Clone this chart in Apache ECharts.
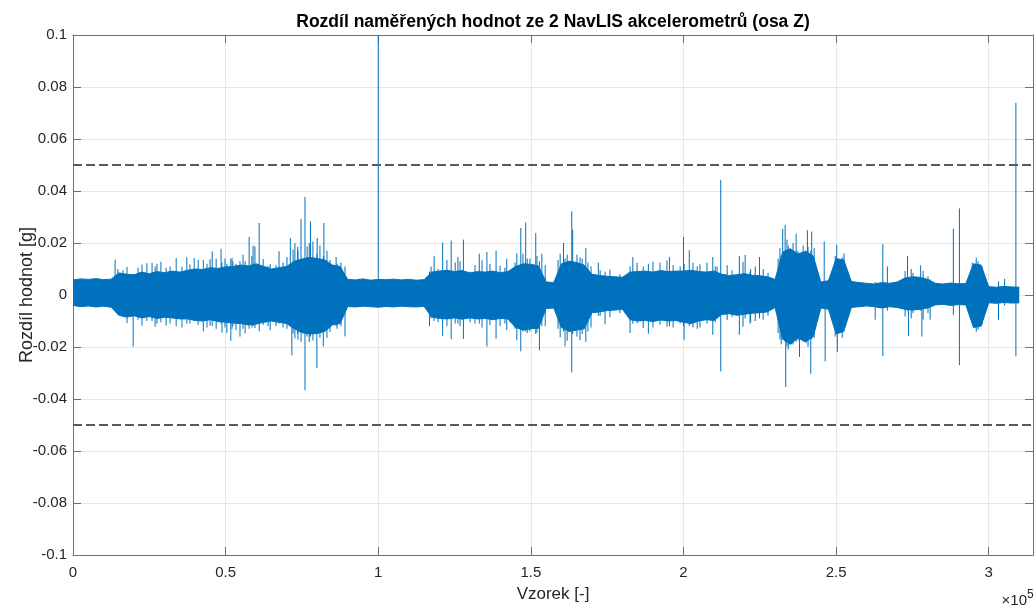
<!DOCTYPE html>
<html lang="cs">
<head>
    <meta charset="UTF-8">
    <title>Rozdíl akcelerometrů</title>
    <script src="https://cdn.jsdelivr.net/npm/echarts@6/dist/echarts.min.js"></script>
    <style>
        *{
            margin: 0;
            padding: 0;
        }
        body,html{
            width: 100%;
            height: 100%;
            overflow: hidden;
            background: #fff;
        }
        .box{
            width: 1035px;
            height: 605px;
        }
    </style>
</head>
<body>
<div class="box"></div>
<script>
    // envelope of the signal, one value every 2500 samples
    let step = 2500;
    let upper = [
        0.0058,0.0062,0.0060,0.0063,0.0059,0.0061,
        0.0085,0.0080,0.0078,0.0088,0.0082,0.0090,0.0086,0.0092,0.0088,
        0.0095,0.0100,0.0098,0.0105,0.0102,0.0108,0.0110,
        0.0115,0.0112,0.0120,0.0110,
        0.0100,0.0105,0.0110,
        0.0130,0.0138,0.0145,0.0140,0.0135,
        0.0115,0.0110,
        0.0060,0.0058,0.0062,0.0057,0.0060,0.0059,0.0061,0.0058,0.0060,0.0057,0.0059,
        0.0088,0.0092,0.0095,0.0090,0.0094,
        0.0085,0.0090,0.0088,0.0092,0.0086,0.0090,
        0.0110,0.0120,0.0118,0.0112,
        0.0050,0.0048,
        0.0120,0.0130,0.0125,0.0115,
        0.0080,0.0075,0.0072,0.0070,0.0068,
        0.0088,0.0090,0.0092,0.0088,0.0094,0.0090,0.0092,
        0.0092,0.0095,0.0090,0.0088,0.0092,
        0.0080,0.0075,0.0078,0.0082,0.0076,0.0074,0.0070,
        0.0060,
        0.0165,0.0178,0.0158,0.0168,0.0150,
        0.0050,0.0055,
        0.0140,0.0135,
        0.0052,0.0048,0.0045,0.0042,
        0.0048,0.0045,0.0050,
        0.0065,0.0070,0.0068,0.0060,
        0.0045,0.0042,0.0046,0.0043,0.0044,
        0.0120,0.0115,
        0.0032,0.0030,0.0033,0.0031,0.0030
    ];
    let lower = [
        -0.0040,-0.0045,-0.0042,-0.0046,-0.0043,-0.0047,
        -0.0078,-0.0085,-0.0080,-0.0088,-0.0083,-0.0090,-0.0086,-0.0088,-0.0092,
        -0.0092,-0.0098,-0.0100,-0.0095,-0.0102,-0.0105,-0.0108,
        -0.0110,-0.0115,-0.0112,-0.0105,
        -0.0100,-0.0105,-0.0110,
        -0.0130,-0.0145,-0.0150,-0.0148,-0.0140,
        -0.0115,-0.0110,
        -0.0044,-0.0046,-0.0043,-0.0045,-0.0047,-0.0044,-0.0046,-0.0043,-0.0045,-0.0046,-0.0044,
        -0.0085,-0.0090,-0.0092,-0.0088,-0.0093,
        -0.0088,-0.0092,-0.0090,-0.0095,-0.0090,-0.0092,
        -0.0125,-0.0135,-0.0130,-0.0128,
        -0.0052,-0.0050,
        -0.0125,-0.0140,-0.0135,-0.0130,
        -0.0068,-0.0065,-0.0060,-0.0058,-0.0055,
        -0.0095,-0.0100,-0.0098,-0.0102,-0.0096,-0.0100,-0.0098,
        -0.0105,-0.0110,-0.0100,-0.0095,-0.0098,
        -0.0075,-0.0072,-0.0078,-0.0074,-0.0070,-0.0068,-0.0065,
        -0.0048,
        -0.0170,-0.0190,-0.0165,-0.0180,-0.0160,
        -0.0050,-0.0055,
        -0.0150,-0.0140,
        -0.0048,-0.0045,-0.0042,-0.0045,
        -0.0050,-0.0045,-0.0048,
        -0.0055,-0.0058,-0.0055,-0.0050,
        -0.0038,-0.0036,-0.0040,-0.0037,-0.0038,
        -0.0125,-0.0120,
        -0.0030,-0.0032,-0.0029,-0.0031,-0.0030
    ];

    // single spikes sticking out of the band (sample, max, min)
    let spikeX = [
        13800,19700,25900,27500,33800,37300,39700,42700,45600,48500,50400,51700,
        54700,57700,59000,61000,64600,67500,71200,71700,73600,74700,76000,77400,
        77800,79900,80000,82000,82200,86200,89100,100000,
        116800,118300,121100,123900,126100,127900,133100,135600,138600,142100,
        145400,146700,148300,151600,152800,153600,
        160700,161200,163400,163700,166100,168000,172100,174300,182500,183400,
        188500,195400,200000,200200,201900,204500,
        209600,212200,218300,220200,221800,224900,232000,232500,233300,233500,
        236900,238000,240200,240600,241700,242000,246100,246400,250200,250400,252600,
        262800,265300,266800,273400,273700,274600,277700,278100,280800,
        288400,290400,295900,303200,305200,308900
    ];
    let spikeTop = [
        0.0136,0.0080,0.0124,0.0120,0.0142,0.0145,0.0142,0.0135,0.0168,0.0178,0.0120,0.0140,
        0.0130,0.0223,0.0190,0.0277,0.0120,0.0168,0.0219,0.0120,0.0185,0.0292,0.0377,0.0200,
        0.0283,0.0160,0.0219,0.0150,0.0277,0.0146,0.0110,0.1000,
        0.0090,0.0149,0.0202,0.0209,0.0146,0.0213,0.0159,0.0165,0.0170,0.0140,
        0.0160,0.0258,0.0279,0.0238,0.0130,0.0159,
        0.0200,0.0140,0.0322,0.0251,0.0145,0.0180,0.0124,0.0090,0.0110,0.0146,
        0.0120,0.0146,0.0223,0.0120,0.0172,0.0110,
        0.0146,0.0443,0.0150,0.0154,0.0090,0.0146,0.0150,0.0254,0.0270,0.0160,
        0.0236,0.0160,0.0170,0.0249,0.0170,0.0244,0.0206,0.0050,0.0193,0.0130,0.0160,
        0.0050,0.0195,0.0110,0.0150,0.0060,0.0100,0.0114,0.0060,0.0060,
        0.0255,0.0333,0.0143,0.0053,0.0062,0.0739
    ];
    let spikeBottom = [
        -0.0050,-0.0198,-0.0100,-0.0110,-0.0120,-0.0110,-0.0100,-0.0140,-0.0120,-0.0110,-0.0146,-0.0176,
        -0.0160,-0.0130,-0.0120,-0.0140,-0.0135,-0.0110,-0.0120,-0.0232,-0.0150,-0.0180,-0.0367,-0.0180,
        -0.0160,-0.0281,-0.0150,-0.0198,-0.0140,-0.0120,-0.0159,-0.0030,
        -0.0120,-0.0100,-0.0157,-0.0170,-0.0110,-0.0169,-0.0110,-0.0198,-0.0168,-0.0135,
        -0.0174,-0.0217,-0.0140,-0.0150,-0.0213,-0.0120,
        -0.0140,-0.0198,-0.0298,-0.0150,-0.0174,-0.0180,-0.0080,-0.0113,-0.0146,-0.0110,
        -0.0149,-0.0120,-0.0120,-0.0172,-0.0120,-0.0130,
        -0.0153,-0.0294,-0.0153,-0.0090,-0.0110,-0.0090,-0.0190,-0.0170,-0.0180,-0.0354,
        -0.0180,-0.0238,-0.0185,-0.0170,-0.0303,-0.0170,-0.0050,-0.0255,-0.0130,-0.0220,-0.0120,
        -0.0095,-0.0235,-0.0060,-0.0060,-0.0157,-0.0090,-0.0060,-0.0160,-0.0095,
        -0.0076,-0.0270,-0.0141,-0.0095,-0.0040,-0.0236
    ];

    // ragged fringe of the band in the busy parts (sample, max, min)
    let fringeX = [
        14700,16400,17700,21300,22600,24200,26900,28800,30500,31800,35700,38300,
        41000,43900,44900,46900,48800,49800,52100,
        52400,53400,55700,56400,58600,59600,62300,63900,66500,68800,70100,72100,
        72700,73700,76700,78600,80900,83200,84200,86500,87800,
        117300,119600,122500,125200,126800,130100,131700,134000,136600,139900,141500,143200,
        144800,147400,148800,149700,152000,154700,
        158900,159600,161900,165100,166800,168700,169700,
        172700,175900,179200,
        184800,186800,190000,192300,194600,196600,198900,203100,205400,207700,210400,
        211000,214300,215900,219500,222000,223500,226100,227700,
        231000,231600,233900,234300,234900,235900,237500,239200,240800,242800,
        249700,252000,
        272600,275200,278500,280100,294600,296500,297800
    ];
    let fringeTop = [
        0.0100,0.0095,0.0108,0.0105,0.0117,0.0122,0.0110,0.0128,0.0105,0.0110,0.0108,0.0118,
        0.0135,0.0120,0.0138,0.0140,0.0125,0.0140,0.0142,
        0.0129,0.0120,0.0155,0.0130,0.0150,0.0187,0.0138,0.0112,0.0115,0.0125,0.0146,0.0175,
        0.0199,0.0170,0.0187,0.0206,0.0190,0.0170,0.0135,0.0120,0.0125,
        0.0109,0.0100,0.0134,0.0125,0.0130,0.0090,0.0115,0.0134,0.0120,0.0112,0.0105,0.0095,
        0.0125,0.0159,0.0140,0.0140,0.0150,0.0115,
        0.0135,0.0159,0.0155,0.0155,0.0140,0.0125,0.0110,
        0.0095,0.0098,0.0080,
        0.0124,0.0110,0.0128,0.0124,0.0133,0.0115,0.0110,0.0124,0.0118,0.0124,0.0110,
        0.0110,0.0115,0.0095,0.0128,0.0100,0.0110,0.0100,0.0085,
        0.0140,0.0180,0.0213,0.0190,0.0175,0.0200,0.0170,0.0190,0.0185,0.0180,
        0.0150,0.0145,
        0.0092,0.0085,0.0092,0.0072,0.0124,0.0130,0.0110
    ];
    let fringeBottom = [
        -0.0075,-0.0085,-0.0108,-0.0095,-0.0118,-0.0100,-0.0122,-0.0105,-0.0118,-0.0110,-0.0125,-0.0110,
        -0.0115,-0.0125,-0.0118,-0.0130,-0.0145,-0.0125,-0.0130,
        -0.0120,-0.0135,-0.0130,-0.0148,-0.0125,-0.0127,-0.0115,-0.0120,-0.0120,-0.0125,-0.0130,-0.0148,
        -0.0167,-0.0172,-0.0160,-0.0175,-0.0165,-0.0165,-0.0142,-0.0130,-0.0120,
        -0.0090,-0.0105,-0.0120,-0.0110,-0.0120,-0.0105,-0.0110,-0.0125,-0.0115,-0.0120,-0.0110,-0.0105,
        -0.0130,-0.0140,-0.0146,-0.0140,-0.0145,-0.0120,
        -0.0130,-0.0163,-0.0176,-0.0160,-0.0150,-0.0140,-0.0125,
        -0.0080,-0.0085,-0.0070,
        -0.0109,-0.0127,-0.0125,-0.0115,-0.0122,-0.0125,-0.0110,-0.0125,-0.0125,-0.0110,-0.0105,
        -0.0090,-0.0096,-0.0085,-0.0122,-0.0105,-0.0100,-0.0095,-0.0080,
        -0.0146,-0.0170,-0.0198,-0.0210,-0.0180,-0.0190,-0.0175,-0.0180,-0.0200,-0.0165,
        -0.0160,-0.0165,
        -0.0083,-0.0070,-0.0095,-0.0070,-0.0108,-0.0134,-0.0115
    ];

    let limits = [0.05, -0.05];
    let xTicks = [0, 50000, 100000, 150000, 200000, 250000, 300000];

    let blue = '#0072BD';
    let font = "'Liberation Sans', Arial, Helvetica, sans-serif";
    let axisColor = '#707070';

    let bandTop = upper.map((v, i) => [i * step, v]);
    let bandBottom = lower.map((v, i) => [i * step, v]);
    let spikes = [];
    spikeX.forEach((x, i) => {
        spikes.push([x, spikeBottom[i]], [x, spikeTop[i]], [x, '-']);
    });
    fringeX.forEach((x, i) => {
        spikes.push([x, fringeBottom[i]], [x, fringeTop[i]], [x, '-']);
    });

    let myChart = echarts.init(document.querySelector('.box'));

    let baseX = {
        type: 'value',
        min: 0,
        max: 314500,
        interval: 50000,
        axisLine: {onZero: false, lineStyle: {color: axisColor}},
        axisTick: {inside: true, length: 8, lineStyle: {color: axisColor}},
    };
    let baseY = {
        type: 'value',
        min: -0.1,
        max: 0.1,
        interval: 0.02,
        axisLine: {onZero: false, lineStyle: {color: axisColor}},
        axisTick: {inside: true, length: 8, lineStyle: {color: axisColor}},
    };

    let option = {
        animation: false,
        backgroundColor: '#fff',
        grid: {
            left: 73,
            right: 2,
            top: 35,
            bottom: 50,
            containLabel: false,
            outerBoundsMode: 'none'
        },
        xAxis: [
            Object.assign({}, baseX, {
                position: 'bottom',
                name: 'Vzorek [-]',
                nameLocation: 'middle',
                nameGap: 31,
                nameTextStyle: {color: '#262626', fontSize: 17, fontFamily: font},
                axisLabel: {
                    color: '#262626',
                    fontSize: 15,
                    fontFamily: font,
                    margin: 10,
                    showMaxLabel: false,
                    formatter: v => xTicks.includes(v) ? String(v / 100000) : ''
                },
                splitLine: {show: true, lineStyle: {color: '#e6e6e6'}}
            }),
            Object.assign({}, baseX, {
                position: 'top',
                axisLabel: {show: false},
                splitLine: {show: false}
            })
        ],
        yAxis: [
            Object.assign({}, baseY, {
                position: 'left',
                name: 'Rozdíl hodnot [g]',
                nameLocation: 'middle',
                nameGap: 37,
                nameMoveOverlap: false,
                nameTextStyle: {color: '#262626', fontSize: 18, fontFamily: font},
                axisLabel: {
                    color: '#262626',
                    fontSize: 15,
                    fontFamily: font,
                    margin: 6,
                    formatter: v => String(+v.toFixed(2))
                },
                splitLine: {show: true, lineStyle: {color: '#e6e6e6'}}
            }),
            Object.assign({}, baseY, {
                position: 'right',
                axisLabel: {show: false},
                splitLine: {show: false}
            })
        ],
        graphic: [
            {
                type: 'text',
                x: 553,
                y: 22,
                style: {
                    text: 'Rozdíl naměřených hodnot ze 2 NavLIS akcelerometrů (osa Z)',
                    fill: '#000',
                    font: 'bold 17.5px ' + font,
                    align: 'center',
                    verticalAlign: 'middle',
                    textAlign: 'center',
                    textVerticalAlign: 'middle'
                }
            },
            {
                type: 'text',
                x: 1027,
                y: 601,
                style: {
                    text: '×10',
                    fill: '#262626',
                    font: '15px ' + font,
                    align: 'right',
                    verticalAlign: 'middle',
                    textAlign: 'right',
                    textVerticalAlign: 'middle'
                }
            },
            {
                type: 'text',
                x: 1027,
                y: 595,
                style: {
                    text: '5',
                    fill: '#262626',
                    font: '12px ' + font,
                    align: 'left',
                    verticalAlign: 'middle',
                    textAlign: 'left',
                    textVerticalAlign: 'middle'
                }
            }
        ],
        series: [
            {
                name: 'horní',
                type: 'line',
                data: bandTop,
                symbol: 'none',
                silent: true,
                lineStyle: {color: blue, width: 1},
                areaStyle: {color: blue, opacity: 1}
            },
            {
                name: 'dolní',
                type: 'line',
                data: bandBottom,
                symbol: 'none',
                silent: true,
                lineStyle: {color: blue, width: 1},
                areaStyle: {color: blue, opacity: 1}
            },
            {
                name: 'špičky',
                type: 'line',
                data: spikes,
                symbol: 'none',
                silent: true,
                connectNulls: false,
                lineStyle: {color: blue, width: 1},
                markLine: {
                    symbol: 'none',
                    silent: true,
                    label: {show: false},
                    lineStyle: {color: '#5a5a5a', width: 2, type: [9, 4]},
                    data: limits.map(v => ({yAxis: v}))
                }
            }
        ]
    };

    myChart.setOption(option);
</script>
</body>
</html>
